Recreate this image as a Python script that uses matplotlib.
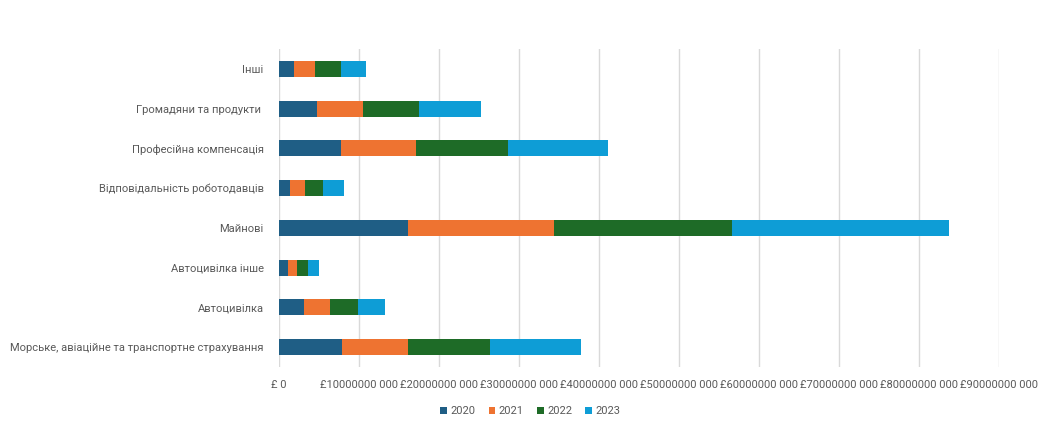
import matplotlib
matplotlib.use("Agg")
import matplotlib.pyplot as plt

categories = [
    "Морське, авіаційне та транспортне страхування",
    "Автоцивілка",
    "Автоцивілка інше",
    "Майнові",
    "Відповідальність роботодавців",
    "Професійна компенсація",
    "Громадяни та продукти ",
    "Інші",
]
years = ["2020", "2021", "2022", "2023"]

# premiums per line, billions of pounds
v2020 = [7.9, 3.1, 1.1, 16.1, 1.4, 7.7, 4.7, 1.9]
v2021 = [8.25, 3.3, 1.1, 18.3, 1.9, 9.4, 5.8, 2.6]
v2022 = [10.2, 3.5, 1.45, 22.2, 2.2, 11.5, 7.0, 3.25]
v2023 = [11.45, 3.35, 1.3, 27.2, 2.6, 12.5, 7.7, 3.1]

tick_values = [0, 10, 20, 30, 40, 50, 60, 70, 80, 90]
tick_labels = ["£ 0", "£10000000 000", "£20000000 000", "£30000000 000",
               "£40000000 000", "£50000000 000", "£60000000 000",
               "£70000000 000", "£80000000 000", "£90000000 000"]

colors = ["#1f5e85", "#ee7331", "#1e6b27", "#0e9dd6"]

plt.rcParams["font.family"] = ["Roboto", "DejaVu Sans"]

fig = plt.figure(figsize=(10.38, 4.21), dpi=100)
ax = fig.add_axes([279 / 1038, 1 - 367 / 421, 720 / 1038, 318 / 421])

series = [v2020, v2021, v2022, v2023]
left = [0.0] * len(categories)
y = list(range(len(categories)))
for name, vals, c in zip(years, series, colors):
    ax.barh(y, vals, left=left, height=0.4, color=c, label=name, zorder=3)
    left = [a + b for a, b in zip(left, vals)]

ax.set_xlim(0, 90)
ax.set_ylim(-0.5, len(categories) - 0.5)
ax.set_xticks(tick_values)
ax.set_xticklabels(tick_labels)
ax.set_yticks(y)
ax.set_yticklabels(categories)
ax.tick_params(axis="both", length=0, colors="#595959", labelsize=8)
ax.tick_params(axis="x", pad=9)
ax.tick_params(axis="y", pad=11)
ax.grid(axis="x", color="#d9d9d9", linewidth=1, zorder=0)
for s in ["top", "right", "bottom", "left"]:
    ax.spines[s].set_visible(False)

fig.legend(loc="center", bbox_to_anchor=(0.511, 1 - 411 / 421), ncol=4,
           frameon=False, fontsize=8, handlelength=0.6, handleheight=0.6,
           handletextpad=0.3, columnspacing=1.2, labelcolor="#595959")

fig.savefig("out.png", dpi=100, facecolor="white")
